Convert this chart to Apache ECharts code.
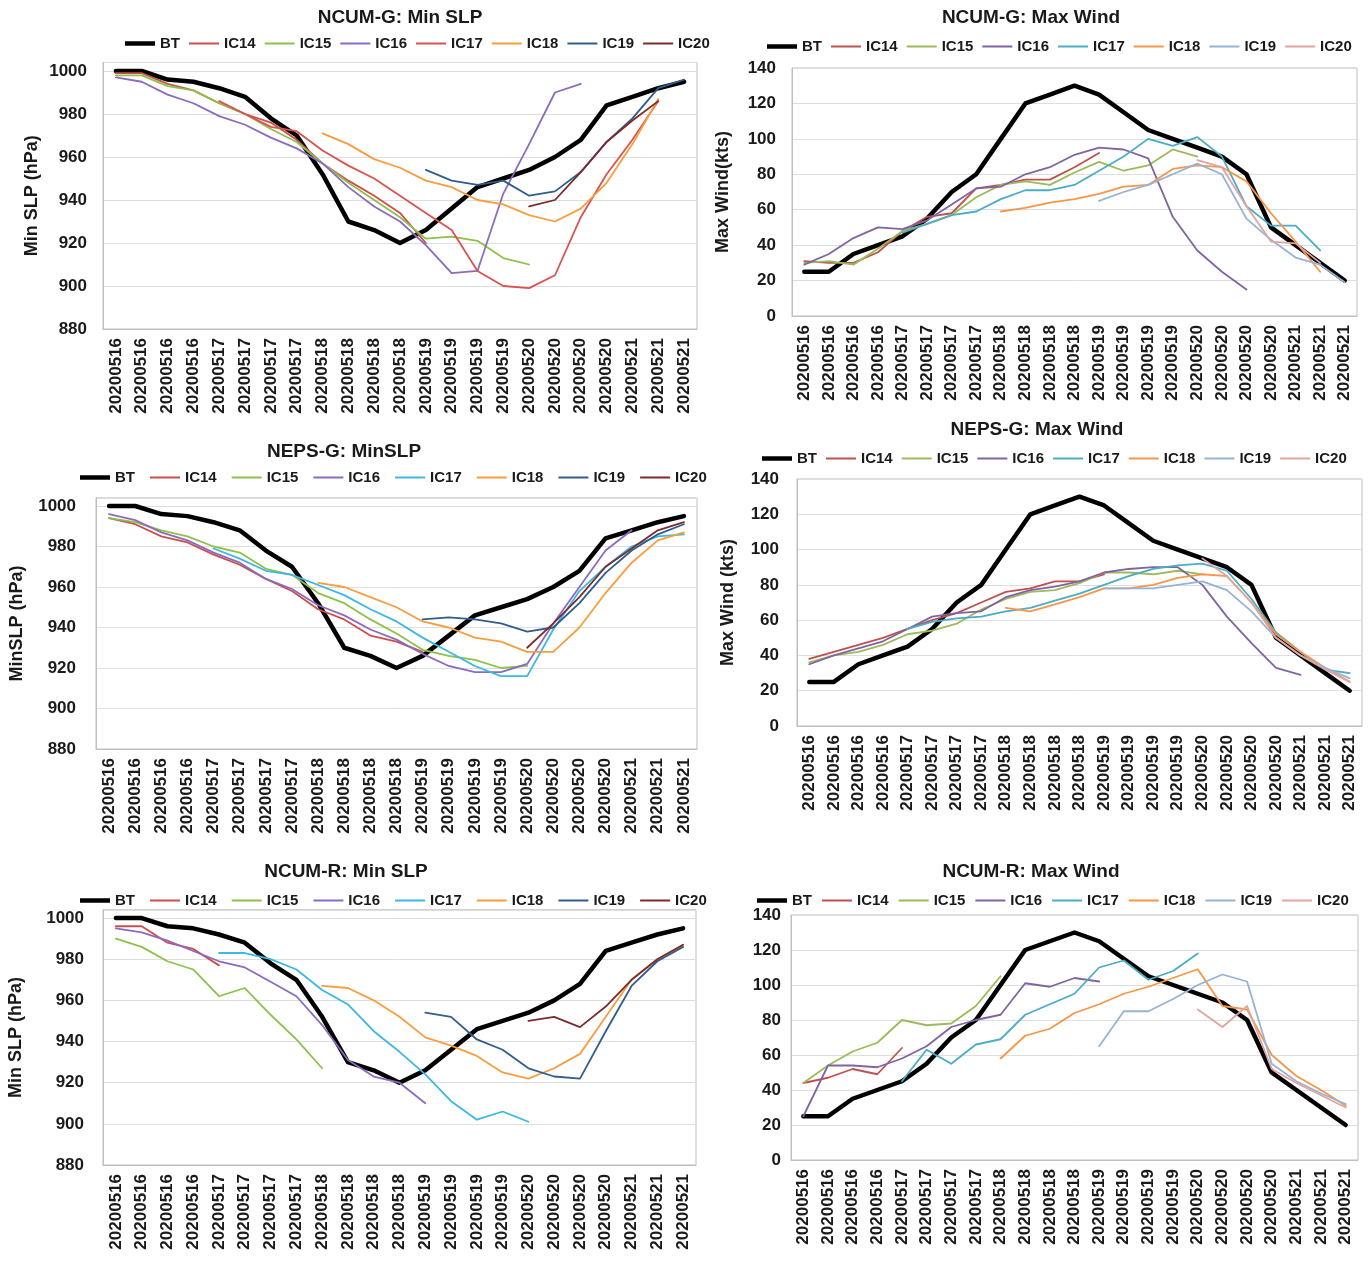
<!DOCTYPE html>
<html>
<head>
<meta charset="utf-8">
<script src="https://cdn.jsdelivr.net/npm/echarts/dist/echarts.min.js"></script>
<style>
  html, body { margin: 0; padding: 0; background: #ffffff; }
  .pane { position: absolute; left: 0; top: 0; width: 1372px; height: 1261px; }
</style>
</head>
<body>
<div id="p1" class="pane"></div>
<div id="p2" class="pane"></div>
<div id="p3" class="pane"></div>
<div id="p4" class="pane"></div>
<div id="p5" class="pane"></div>
<div id="p6" class="pane"></div>
<script>
const N = null;

// 6-hourly track times, 16-21 May 2020
const dates = [
  '20200516', '20200516', '20200516', '20200516',
  '20200517', '20200517', '20200517', '20200517',
  '20200518', '20200518', '20200518', '20200518',
  '20200519', '20200519', '20200519', '20200519',
  '20200520', '20200520', '20200520', '20200520',
  '20200521', '20200521', '20200521'
];

const seriesNames = ['BT', 'IC14', 'IC15', 'IC16', 'IC17', 'IC18', 'IC19', 'IC20'];

// Best track
const btSlp  = [1000, 1000, 996, 995, 992, 988, 978, 970, 952, 930, 926, 920, 926, 936, 946, 950, 954, 960, 968, 984, 988, 992, 995];
const btWind = [25, 25, 35, 40, 45, 55, 70, 80, 100, 120, 125, 130, 125, 115, 105, 100, 95, 90, 80, 50, 40, 30, 20];

// NCUM-G minimum sea level pressure (hPa)
const ncumgSlpIC14 = [999, 999, 994, 991, 985, 980, 976, 968, 957, 949, 942, 934, 920, N, N, N, N, N, N, N, N, N, N];
const ncumgSlpIC15 = [998, 998, 993, 991, 985, 980, 973, 967, 957, 948, 940, 932, 922, 923, 921, 913, 910, N, N, N, N, N, N];
const ncumgSlpIC16 = [997, 995, 989, 985, 979, 975, 969, 964, 957, 946, 937, 930, 919, 906, 907, 943, 966, 990, 994, N, N, N, N];
const ncumgSlpIC17 = [N, N, N, N, 986, 980, 974, 972, 963, 956, 950, 942, 934, 926, 907, 900, 899, 905, 932, 952, 968, 986, N];
const ncumgSlpIC18 = [N, N, N, N, N, N, N, N, 971, 966, 959, 955, 949, 946, 940, 938, 933, 930, 936, 948, 966, 987, N];
const ncumgSlpIC19 = [N, N, N, N, N, N, N, N, N, N, N, N, 954, 949, 947, 949, 942, 944, 953, 967, 978, 992, 996];
const ncumgSlpIC20 = [N, N, N, N, N, N, N, N, N, N, N, N, N, N, N, N, 937, 940, 953, 967, 977, 986, N];

// NCUM-G maximum wind (kts)
const ncumgWindIC14 = [31, 30, 30, 36, 48, 56, 58, 72, 74, 77, 77, 84, 92, N, N, N, N, N, N, N, N, N, N];
const ncumgWindIC15 = [30, 31, 29, 38, 48, 52, 57, 67, 74, 76, 74, 81, 87, 82, 85, 94, 90, N, N, N, N, N, N];
const ncumgWindIC16 = [29, 35, 44, 50, 49, 54, 63, 72, 73, 80, 84, 91, 95, 94, 89, 56, 37, 25, 15, N, N, N, N];
const ncumgWindIC17 = [N, N, N, N, 47, 52, 57, 59, 66, 71, 71, 74, 82, 90, 100, 96, 101, 90, 62, 51, 51, 37, N];
const ncumgWindIC18 = [N, N, N, N, N, N, N, N, 59, 61, 64, 66, 69, 73, 74, 83, 85, 84, 76, 58, 42, 25, N];
const ncumgWindIC19 = [N, N, N, N, N, N, N, N, N, N, N, N, 65, 70, 74, 80, 86, 80, 55, 43, 33, 29, 19];
const ncumgWindIC20 = [N, N, N, N, N, N, N, N, N, N, N, N, N, N, N, N, 88, 84, 62, 42, 41, 30, N];

// NEPS-G minimum sea level pressure (hPa)
const nepsgSlpIC14 = [994, 991, 985, 982, 976, 971, 964, 958, 949, 944, 936, 933, 928, N, N, N, N, N, N, N, N, N, N];
const nepsgSlpIC15 = [994, 992, 988, 985, 980, 977, 969, 966, 957, 952, 944, 937, 929, 926, 924, 920, 921, N, N, N, N, N, N];
const nepsgSlpIC16 = [996, 993, 987, 983, 977, 972, 964, 959, 951, 946, 939, 934, 927, 921, 918, 918, 922, 942, 960, 978, 988, N, N];
const nepsgSlpIC17 = [N, N, N, N, 979, 974, 968, 966, 961, 956, 949, 943, 935, 928, 921, 916, 916, 939, 958, 970, 980, 985, 986];
const nepsgSlpIC18 = [N, N, N, N, N, N, N, N, 962, 960, 955, 950, 943, 940, 935, 933, 928, 928, 940, 957, 972, 983, 987];
const nepsgSlpIC19 = [N, N, N, N, N, N, N, N, N, N, N, N, 944, 945, 944, 942, 938, 940, 952, 967, 978, 986, 991];
const nepsgSlpIC20 = [N, N, N, N, N, N, N, N, N, N, N, N, N, N, N, N, 930, 942, 955, 970, 979, 988, 992];

// NEPS-G maximum wind (kts)
const nepsgWindIC14 = [38, 42, 46, 50, 55, 60, 64, 70, 76, 78, 82, 82, 86, N, N, N, N, N, N, N, N, N, N];
const nepsgWindIC15 = [36, 40, 42, 46, 52, 54, 58, 66, 72, 76, 77, 81, 87, 87, 86, 88, 86, N, N, N, N, N, N];
const nepsgWindIC16 = [35, 40, 44, 48, 55, 62, 64, 65, 73, 77, 79, 82, 87, 89, 90, 90, 80, 62, 47, 33, 29, N, N];
const nepsgWindIC17 = [N, N, N, N, 55, 59, 61, 62, 65, 67, 71, 75, 80, 85, 89, 91, 92, 88, 72, 53, 42, 32, 30];
const nepsgWindIC18 = [N, N, N, N, N, N, N, N, 67, 65, 69, 73, 78, 78, 80, 84, 86, 85, 70, 52, 42, 33, 25];
const nepsgWindIC19 = [N, N, N, N, N, N, N, N, N, N, N, N, 78, 78, 78, 80, 82, 77, 65, 50, 40, 33, 27];
const nepsgWindIC20 = [N, N, N, N, N, N, N, N, N, N, N, N, N, N, N, N, 95, 85, 70, 50, 40, 32, 25];

// NCUM-R minimum sea level pressure (hPa)
const ncumrSlpIC14 = [996, 996, 988, 985, 977, N, N, N, N, N, N, N, N, N, N, N, N, N, N, N, N, N, N];
const ncumrSlpIC15 = [990, 986, 979, 975, 962, 966, 953, 941, 927, N, N, N, N, N, N, N, N, N, N, N, N, N, N];
const ncumrSlpIC16 = [995, 993, 989, 984, 979, 976, 969, 962, 948, 931, 923, 920, 910, N, N, N, N, N, N, N, N, N, N];
const ncumrSlpIC17 = [N, N, N, N, 983, 983, 980, 975, 965, 958, 945, 935, 924, 911, 902, 906, 901, N, N, N, N, N, N];
const ncumrSlpIC18 = [N, N, N, N, N, N, N, N, 967, 966, 960, 952, 942, 938, 933, 925, 922, 927, 934, 952, 970, 980, 987];
const ncumrSlpIC19 = [N, N, N, N, N, N, N, N, N, N, N, N, 954, 952, 941, 936, 927, 923, 922, 945, 967, 979, 986];
const ncumrSlpIC20 = [N, N, N, N, N, N, N, N, N, N, N, N, N, N, N, N, 950, 952, 947, 957, 970, 980, 987];

// NCUM-R maximum wind (kts)
const ncumrWindIC14 = [44, 47, 52, 49, 64, N, N, N, N, N, N, N, N, N, N, N, N, N, N, N, N, N, N];
const ncumrWindIC15 = [44, 54, 62, 67, 80, 77, 78, 88, 105, N, N, N, N, N, N, N, N, N, N, N, N, N, N];
const ncumrWindIC16 = [25, 54, 54, 53, 58, 65, 76, 80, 83, 101, 99, 104, 102, N, N, N, N, N, N, N, N, N, N];
const ncumrWindIC17 = [N, N, N, N, 45, 63, 55, 66, 69, 83, 89, 95, 110, 114, 103, 108, 118, N, N, N, N, N, N];
const ncumrWindIC18 = [N, N, N, N, N, N, N, N, 58, 71, 75, 84, 89, 95, 99, 104, 109, 88, 86, 60, 48, 40, 31];
const ncumrWindIC19 = [N, N, N, N, N, N, N, N, N, N, N, N, 65, 85, 85, 92, 100, 106, 102, 55, 45, 38, 32];
const ncumrWindIC20 = [N, N, N, N, N, N, N, N, N, N, N, N, N, N, N, N, 86, 76, 88, 52, 44, 37, 30];

// Line colours
const slpColors  = ['#000000', '#CC4E4B', '#8DC14A', '#8A6BBE', '#3DB7E4', '#F99D3E', '#2F5D8E', '#7A2B2B'];
const slpColorsG = ['#000000', '#CC4E4B', '#8DC14A', '#8A6BBE', '#D9534F', '#F99D3E', '#2F5D8E', '#7A2B2B'];
const windColors = ['#000000', '#C0504D', '#9BBB59', '#8064A2', '#4BACC6', '#F79646', '#95B3D7', '#E3A3A1'];

const FONT = '"Liberation Sans", Arial, sans-serif';
const INK = '#1a1a1a';

// Legend key: a plain bar of the given thickness, centred in a 30x12 box
function lineKey(w) {
  const a = (12 - w) / 2, b = a + w;
  return 'path://M0,0M30,12M0,' + a + 'L30,' + a + 'L30,' + b + 'L0,' + b + 'Z';
}

function buildPanel(elId, p) {
  const chart = echarts.init(document.getElementById(elId), null, { renderer: 'canvas', width: 1372, height: 1261 });
  const isSlp = p.kind === 'slp';
  const series = p.data.map((d, i) => ({
    name: seriesNames[i],
    type: 'line',
    data: d,
    symbol: 'none',
    showSymbol: false,
    connectNulls: false,
    silent: true,
    lineStyle: { color: p.colors[i], width: i === 0 ? 4.5 : 1.8, cap: 'round', join: 'round' },
    itemStyle: { color: p.colors[i] },
    emphasis: { disabled: true }
  }));
  chart.setOption({
    animation: false,
    graphic: [{
      type: 'text',
      x: p.title.x, y: p.title.y,
      style: {
        text: p.title.text, align: 'center', verticalAlign: 'middle',
        font: 'bold 19px ' + FONT, fill: INK
      }
    }],
    legend: {
      left: p.legend.left, top: p.legend.top, padding: 0,
      itemWidth: 30, itemHeight: 12, itemGap: p.legend.gap,
      selectedMode: false,
      textStyle: { fontFamily: FONT, fontWeight: 'bold', fontSize: 15, color: INK },
      data: seriesNames.map((n, i) => ({ name: n, icon: lineKey(i === 0 ? 4.5 : 2) }))
    },
    grid: {
      left: p.grid.left, top: p.grid.top, width: p.grid.width, height: p.grid.height,
      show: true, borderColor: '#bfbfbf', borderWidth: 1, backgroundColor: 'transparent',
      outerBoundsMode: 'none', containLabel: false
    },
    xAxis: {
      type: 'category',
      data: dates,
      boundaryGap: true,
      axisTick: { show: false },
      axisLine: { show: true, lineStyle: { color: '#bfbfbf', width: 1 } },
      axisLabel: {
        interval: 0, rotate: 90, margin: 9,
        fontFamily: FONT, fontWeight: 'bold', fontSize: 17, color: INK
      },
      splitLine: { show: false }
    },
    yAxis: {
      type: 'value',
      min: isSlp ? 880 : 0,
      max: isSlp ? 1004 : 140,
      interval: 20,
      name: p.yName || '',
      nameLocation: 'middle',
      nameRotate: 90,
      nameGap: p.nameGap || 50,
      nameTextStyle: { fontFamily: FONT, fontWeight: 'bold', fontSize: 18, color: INK },
      axisLine: { show: true, lineStyle: { color: '#bfbfbf', width: 1 } },
      axisTick: { show: false },
      axisLabel: {
        margin: p.labelMargin,
        fontFamily: FONT, fontWeight: 'bold', fontSize: 17, color: INK,
        formatter: v => (v % 20 === 0 ? String(v) : '')
      },
      splitLine: { show: true, lineStyle: { color: '#dedede', width: 1 } }
    },
    series
  });
}

buildPanel('p1', {
  kind: 'slp', colors: slpColorsG,
  title: { x: 400, y: 18, text: 'NCUM-G: Min SLP' },
  legend: { left: 125, top: 36, gap: 9 },
  grid: { left: 103, top: 62.4, width: 594, height: 266.6 },
  yName: 'Min SLP (hPa)', nameGap: 62, labelMargin: 16,
  data: [btSlp, ncumgSlpIC14, ncumgSlpIC15, ncumgSlpIC16, ncumgSlpIC17, ncumgSlpIC18, ncumgSlpIC19, ncumgSlpIC20]
});

buildPanel('p2', {
  kind: 'wind', colors: windColors,
  title: { x: 1031, y: 18, text: 'NCUM-G: Max Wind' },
  legend: { left: 767, top: 39, gap: 9 },
  grid: { left: 792, top: 68, width: 565, height: 248 },
  yName: 'Max Wind(kts)', nameGap: 60, labelMargin: 16,
  data: [btWind, ncumgWindIC14, ncumgWindIC15, ncumgWindIC16, ncumgWindIC17, ncumgWindIC18, ncumgWindIC19, ncumgWindIC20]
});

buildPanel('p3', {
  kind: 'slp', colors: slpColors,
  title: { x: 344, y: 452, text: 'NEPS-G: MinSLP' },
  legend: { left: 80, top: 470, gap: 15 },
  grid: { left: 96, top: 497.9, width: 601, height: 251.1 },
  yName: 'MinSLP (hPa)', nameGap: 70, labelMargin: 20,
  data: [btSlp, nepsgSlpIC14, nepsgSlpIC15, nepsgSlpIC16, nepsgSlpIC17, nepsgSlpIC18, nepsgSlpIC19, nepsgSlpIC20]
});

buildPanel('p4', {
  kind: 'wind', colors: windColors,
  title: { x: 1037, y: 430, text: 'NEPS-G: Max Wind' },
  legend: { left: 762, top: 451, gap: 9 },
  grid: { left: 797, top: 479, width: 565, height: 247 },
  yName: 'Max Wind (kts)', nameGap: 60, labelMargin: 18,
  data: [btWind, nepsgWindIC14, nepsgWindIC15, nepsgWindIC16, nepsgWindIC17, nepsgWindIC18, nepsgWindIC19, nepsgWindIC20]
});

buildPanel('p5', {
  kind: 'slp', colors: slpColors,
  title: { x: 346, y: 872, text: 'NCUM-R: Min SLP' },
  legend: { left: 80, top: 893, gap: 15 },
  grid: { left: 103, top: 909.8, width: 593, height: 255.2 },
  yName: 'Min SLP (hPa)', nameGap: 78, labelMargin: 19,
  data: [btSlp, ncumrSlpIC14, ncumrSlpIC15, ncumrSlpIC16, ncumrSlpIC17, ncumrSlpIC18, ncumrSlpIC19, ncumrSlpIC20]
});

buildPanel('p6', {
  kind: 'wind', colors: windColors,
  title: { x: 1031, y: 872, text: 'NCUM-R: Max Wind' },
  legend: { left: 757, top: 893, gap: 10 },
  grid: { left: 791, top: 915, width: 567, height: 245 },
  yName: '', labelMargin: 10,
  data: [btWind, ncumrWindIC14, ncumrWindIC15, ncumrWindIC16, ncumrWindIC17, ncumrWindIC18, ncumrWindIC19, ncumrWindIC20]
});
</script>
</body>
</html>
